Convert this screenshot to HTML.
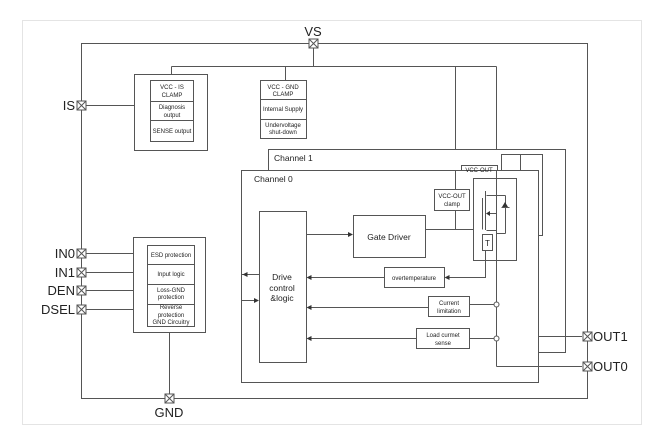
<!DOCTYPE html>
<html><head><meta charset="utf-8"><style>
html,body{margin:0;padding:0;background:#fff}
svg{display:block}
text{font-family:"Liberation Sans",sans-serif;fill:#222}
</style></head><body>
<svg width="664" height="439" viewBox="0 0 664 439" xmlns="http://www.w3.org/2000/svg">
<defs>
<g id="p"><rect x="-4.5" y="-4.5" width="9" height="9" fill="#fff" stroke="#555"/><line x1="-4.5" y1="-4.5" x2="4.5" y2="4.5" stroke="#555"/><line x1="4.5" y1="-4.5" x2="-4.5" y2="4.5" stroke="#555"/></g>
</defs>
<rect x="22.5" y="20.5" width="619" height="404" fill="none" stroke="#e4e4e4"/>
<g stroke="#555" stroke-width="1" fill="none">
<rect x="81.5" y="43.5" width="506" height="355"/>
<line x1="313.5" y1="48" x2="313.5" y2="66.5"/>
<line x1="171.5" y1="66.5" x2="496.5" y2="66.5"/>
<line x1="171.5" y1="66.5" x2="171.5" y2="74"/>
<line x1="285.5" y1="66.5" x2="285.5" y2="80"/>
<line x1="455.5" y1="66.5" x2="455.5" y2="229.5"/>
<line x1="496.5" y1="66.5" x2="496.5" y2="366.5"/>
<line x1="86" y1="105.5" x2="134" y2="105.5"/>
<rect x="134.5" y="74.5" width="73" height="76" fill="#fff"/>
<rect x="150.5" y="80.5" width="43" height="61" fill="#fff"/>
<line x1="150.5" y1="101.5" x2="193.5" y2="101.5"/>
<line x1="150.5" y1="120.5" x2="193.5" y2="120.5"/>
<rect x="260.5" y="80.5" width="46" height="58" fill="#fff"/>
<line x1="260.5" y1="99.5" x2="306.5" y2="99.5"/>
<line x1="260.5" y1="119.5" x2="306.5" y2="119.5"/>
<rect x="268.5" y="149.5" width="297" height="203" fill="#fff"/>
<rect x="461.5" y="165.5" width="36" height="20" fill="#fff"/>
<rect x="501.5" y="154.5" width="41" height="81" fill="#fff"/>
<line x1="520.5" y1="154.5" x2="520.5" y2="175"/>
<rect x="241.5" y="170.5" width="297" height="212" fill="#fff"/>
<line x1="455.5" y1="170.5" x2="455.5" y2="229.5"/>
<line x1="496.5" y1="170.5" x2="496.5" y2="366.5"/>
<rect x="259.5" y="211.5" width="47" height="151"/>
<rect x="353.5" y="215.5" width="72" height="42"/>
<line x1="306.5" y1="234.5" x2="351" y2="234.5"/>
<line x1="425.5" y1="229.5" x2="473.5" y2="229.5"/>
<rect x="434.5" y="189.5" width="35" height="21" fill="#fff"/>
<rect x="473.5" y="178.5" width="43" height="82"/>
<line x1="496.5" y1="178.5" x2="496.5" y2="195.5"/>
<line x1="486.5" y1="195.5" x2="505.5" y2="195.5"/>
<line x1="505.5" y1="195.5" x2="505.5" y2="233.5"/>
<line x1="485.5" y1="191" x2="485.5" y2="230"/>
<line x1="482.5" y1="198" x2="482.5" y2="229.5"/>
<line x1="486.5" y1="213.5" x2="496.5" y2="213.5"/>
<line x1="486.5" y1="230.5" x2="496.5" y2="230.5"/>
<line x1="496.5" y1="233.5" x2="505.5" y2="233.5"/>
<line x1="501.5" y1="207.5" x2="509.5" y2="207.5"/>
<rect x="482.5" y="234.5" width="10" height="16" fill="#fff"/>
<rect x="384.5" y="267.5" width="60" height="20"/>
<polyline points="485.5,250.5 485.5,277.5 447,277.5"/>
<line x1="384.5" y1="277.5" x2="309" y2="277.5"/>
<rect x="428.5" y="296.5" width="41" height="20"/>
<line x1="469.5" y1="304.5" x2="494" y2="304.5"/>
<line x1="428.5" y1="307.5" x2="309" y2="307.5"/>
<rect x="416.5" y="328.5" width="53" height="20"/>
<line x1="469.5" y1="338.5" x2="494" y2="338.5"/>
<line x1="416.5" y1="338.5" x2="309" y2="338.5"/>
<circle cx="496.5" cy="304.5" r="2.5" fill="#fff"/>
<circle cx="496.5" cy="338.5" r="2.5" fill="#fff"/>
<line x1="241.5" y1="274.5" x2="259.5" y2="274.5"/>
<line x1="241.5" y1="300.5" x2="257" y2="300.5"/>
<line x1="538.5" y1="336.5" x2="582" y2="336.5"/>
<line x1="496.5" y1="366.5" x2="582" y2="366.5"/>
<line x1="86" y1="253.5" x2="133" y2="253.5"/>
<line x1="86" y1="272.5" x2="133" y2="272.5"/>
<line x1="86" y1="290.5" x2="133" y2="290.5"/>
<line x1="86" y1="309.5" x2="133" y2="309.5"/>
<rect x="133.5" y="237.5" width="72" height="95" fill="#fff"/>
<rect x="147.5" y="245.5" width="47" height="81"/>
<line x1="147.5" y1="264.5" x2="194.5" y2="264.5"/>
<line x1="147.5" y1="284.5" x2="194.5" y2="284.5"/>
<line x1="147.5" y1="304.5" x2="194.5" y2="304.5"/>
<line x1="169.5" y1="332.5" x2="169.5" y2="394"/>
</g>
<g fill="#333">
<polygon points="353,234.5 348,232 348,237"/>
<polygon points="444.5,277.5 449.5,275 449.5,280"/>
<polygon points="306.5,277.5 311.5,275 311.5,280"/>
<polygon points="306.5,307.5 311.5,305 311.5,310"/>
<polygon points="306.5,338.5 311.5,336 311.5,341"/>
<polygon points="242.5,274.5 247.5,272 247.5,277"/>
<polygon points="259,300.5 254,298 254,303"/>
<polygon points="486,213.5 490,211 490,216"/>
<polygon points="502,207 508,207 505,202"/>
</g>
<use href="#p" x="313.5" y="43.5"/>
<use href="#p" x="81.5" y="105.5"/>
<use href="#p" x="81.5" y="253.5"/>
<use href="#p" x="81.5" y="272.5"/>
<use href="#p" x="81.5" y="290.5"/>
<use href="#p" x="81.5" y="309.5"/>
<use href="#p" x="169.5" y="398.5"/>
<use href="#p" x="587.5" y="336.5"/>
<use href="#p" x="587.5" y="366.5"/>
<g font-size="13">
<text x="313" y="36" text-anchor="middle">VS</text>
<text x="75" y="110" text-anchor="end">IS</text>
<text x="75" y="258" text-anchor="end">IN0</text>
<text x="75" y="277" text-anchor="end">IN1</text>
<text x="75" y="295" text-anchor="end">DEN</text>
<text x="75" y="314" text-anchor="end">DSEL</text>
<text x="169" y="417" text-anchor="middle">GND</text>
<text x="593" y="341">OUT1</text>
<text x="593" y="371">OUT0</text>
</g>
<g font-size="6" text-anchor="middle">
<text x="172" y="89">VCC - IS</text><text x="172" y="97">CLAMP</text>
<text x="172" y="109">Diagnosis</text><text x="172" y="117">output</text>
<text x="172" y="133">SENSE output</text>
<text x="283" y="89">VCC - GND</text><text x="283" y="96">CLAMP</text>
<text x="283" y="111">Internal Supply</text>
<text x="283" y="127">Undervoltage</text><text x="283" y="134">shut-down</text>
<text x="171" y="257">ESD protection</text>
<text x="171" y="276">Input logic</text>
<text x="171" y="292">Loss-GND</text><text x="171" y="299">protection</text>
<text x="171" y="309">Reverse</text><text x="171" y="317">protection</text><text x="171" y="324">GND Circuitry</text>
<text x="452" y="198">VCC-OUT</text><text x="452" y="206">clamp</text>
<text x="479" y="172">VCC-OUT</text>
<text x="414" y="280">overtemperature</text>
<text x="449" y="305">Current</text><text x="449" y="313">limitation</text>
<text x="443" y="337">Load curmet</text><text x="443" y="345">sense</text>
</g>
<g font-size="8.5">
<text x="274" y="161">Channel 1</text>
<text x="254" y="182">Channel 0</text>
<text x="389" y="240" text-anchor="middle">Gate Driver</text>
<text x="282" y="280" text-anchor="middle">Drive</text>
<text x="282" y="291" text-anchor="middle">control</text>
<text x="282" y="301" text-anchor="middle">&amp;logic</text>
<text x="487.5" y="246" text-anchor="middle" font-size="8">T</text>
</g>
</svg>
</body></html>
